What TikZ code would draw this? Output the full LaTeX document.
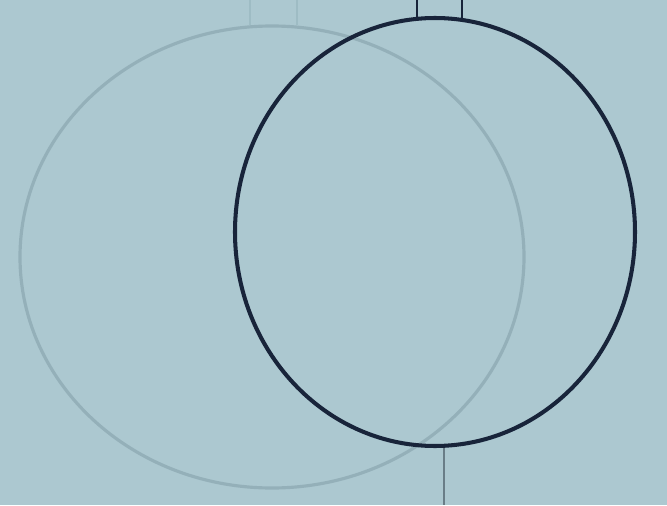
\documentclass[tikz,border=0pt]{standalone}
\usepackage{tikz}
\definecolor{wall}{RGB}{172,200,208}
\definecolor{hoop}{RGB}{24,36,58}
\definecolor{ghost}{RGB}{148,176,185}
\definecolor{rod}{RGB}{105,125,135}
\definecolor{faint}{RGB}{158,188,196}
\tikzset{
  jhoop/.style={hoop,line width=2.3pt},
  jghost/.style={ghost,line width=1.8pt},
  jhang/.style={hoop,line width=0.9pt},
  jrod/.style={rod,line width=0.8pt},
  jfaint/.style={faint,line width=1.0pt},
}
\begin{document}
\begin{tikzpicture}[x=0.02cm,y=0.02cm]
  % ---- backdrop ----
  \fill[wall] (0,0) rectangle (667,505);
  \useasboundingbox (0,0) rectangle (667,505);
  % ---- left (faded) hoop ----
  \draw[jfaint] (250,505) -- (250,480);
  \draw[jfaint] (297,505) -- (297,480);
  \draw[jghost] (272,248) ellipse [x radius=252,y radius=231];
  % ---- right hoop ----
  \coordinate (topl) at (417,505);
  \coordinate (topr) at (462,505);
  \coordinate (hl) at (417,485.5);
  \coordinate (hr) at (462,485.5);
  \coordinate (bot) at (444,59);
  \coordinate (floor) at (444,0);
  \draw[jhang] (topl) -- (hl);
  \draw[jhang] (topr) -- (hr);
  \draw[jrod] (bot) -- (floor);
  \draw[jhoop] (435,273) ellipse [x radius=200,y radius=214];
\end{tikzpicture}
\end{document}
